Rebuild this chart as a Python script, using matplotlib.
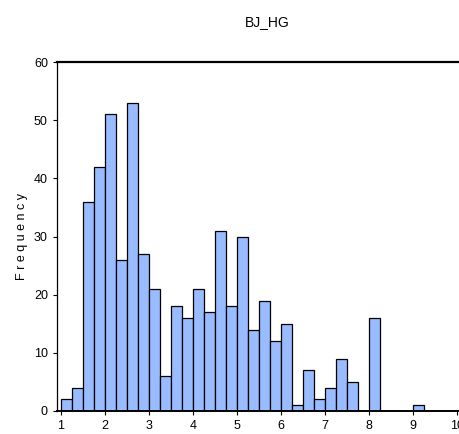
import numpy as np
import matplotlib
matplotlib.use("Agg")
import matplotlib.pyplot as plt

plt.rcParams['font.family'] = ['Liberation Sans Narrow', 'Liberation Sans', 'DejaVu Sans']

bin_left = np.arange(1.0, 9.25, 0.25)
counts = [2, 4, 36, 42, 51, 26, 53, 27, 21, 6, 18, 16, 21, 17, 31, 18,
          30, 14, 19, 12, 15, 1, 7, 2, 4, 9, 5, 0, 16, 0, 0, 0, 1]
xticks = [1, 2, 3, 4, 5, 6, 7, 8, 9, 10]
yticks = [0, 10, 20, 30, 40, 50, 60]

fig = plt.figure(figsize=(4.59, 4.34), dpi=100)
ax = fig.add_axes([0.124, 0.053, 0.876, 0.804])

ax.bar(bin_left, counts, width=0.25, align='edge', color='#99BBFF',
       edgecolor='black', linewidth=0.9)

ax.set_xlim(0.91, 10.05)
ax.set_ylim(0, 60)
ax.set_xticks(xticks)
ax.set_yticks(yticks)
ax.tick_params(labelsize=9, length=3, width=0.8)
ax.spines['right'].set_visible(False)
ax.spines['top'].set_linewidth(1.6)
ax.spines['bottom'].set_linewidth(1.4)
ax.spines['left'].set_linewidth(0.9)
ax.set_ylabel('F r e q u e n c y', fontsize=9)
fig.text(0.582, 0.95, 'BJ_HG', ha='center', va='center', fontsize=10)

fig.savefig('out.png', dpi=100)
